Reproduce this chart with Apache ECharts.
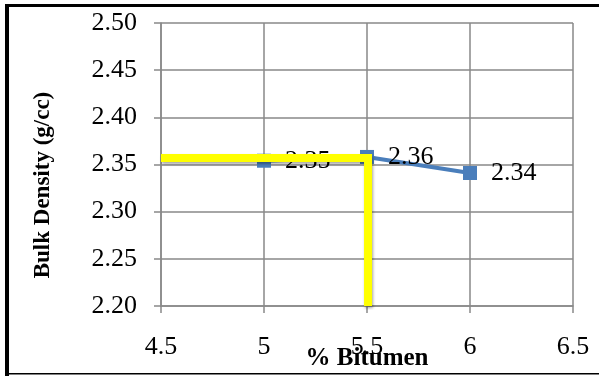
<!DOCTYPE html>
<html><head><meta charset="utf-8">
<script src="https://cdn.jsdelivr.net/npm/echarts@6/dist/echarts.min.js"></script>
<style>html,body{margin:0;padding:0;background:#fff}#c{width:599px;height:376px}</style>
</head><body><div id="c"></div>
<script>
const bitumen = [5, 5.5, 6];
const density = [2.354, 2.358, 2.341];
const densityLabels = ['2.35', '2.36', '2.34'];
const guideX = [4.5, 5.505, 5.505];
const guideY = [2.357, 2.357, 2.2];
const xTicks = [4.5, 5, 5.5, 6, 6.5];
const yTicks = ['2.20','2.25','2.30','2.35','2.40','2.45','2.50'];
const xTitle = '% Bitumen';
const yTitle = 'Bulk Density (g/cc)';

const chart = echarts.init(document.getElementById('c'), null, {renderer:'canvas'});
const FONT = '"Liberation Serif", "Times New Roman", serif';
const gridLine = {color:'#898989', width:1.5};
chart.setOption({
  animation:false,
  backgroundColor:'#fff',
  grid:{left:161, right:26, top:23, bottom:70, containLabel:false, outerBoundsMode:'none'},
  xAxis:{type:'value', min:4.5, max:6.5, interval:0.5,
    axisLine:{show:true, lineStyle:gridLine}, axisTick:{show:true, length:7, lineStyle:gridLine},
    splitLine:{show:true, lineStyle:gridLine},
    axisLabel:{fontFamily:FONT, fontSize:26, color:'#000', margin:28,
      formatter:v=>{const t=xTicks.find(x=>Math.abs(x-v)<1e-6);return t===undefined?'':String(t);}}},
  yAxis:{type:'value', min:2.2, max:2.5, interval:0.05,
    axisLine:{show:true, lineStyle:gridLine}, axisTick:{show:true, length:7, lineStyle:gridLine},
    splitLine:{show:true, lineStyle:gridLine},
    axisLabel:{fontFamily:FONT, fontSize:26, color:'#000', margin:24,
      formatter:v=>{const i=Math.round((v-2.2)/0.05);return yTicks[i]||'';}}},
  series:[
    {type:'line', z:3, data:bitumen.map((x,i)=>[x,density[i]]),
      symbol:'rect', symbolSize:14, lineStyle:{color:'#4a7ebb', width:4},
      itemStyle:{color:'#4a7ebb'},
      label:{show:true, position:'right', distance:14, fontFamily:FONT, fontSize:26, color:'#000',
        formatter:p=>densityLabels[p.dataIndex]}},
    {type:'line', z:5, data:guideX.map((x,i)=>[x,guideY[i]]), symbol:'none',
      lineStyle:{color:'#ffff00', width:8, cap:'butt', join:'miter',
        shadowColor:'rgba(0,0,0,0.35)', shadowBlur:3, shadowOffsetX:1, shadowOffsetY:2}}
  ],
  graphic:[
    {type:'rect', shape:{x:5, y:4, width:600, height:3}, style:{fill:'#000'}, silent:true},
    {type:'rect', shape:{x:5, y:4, width:4, height:380}, style:{fill:'#000'}, silent:true},
    {type:'rect', shape:{x:5, y:373, width:600, height:1.5}, style:{fill:'#000'}, silent:true},
    {type:'text', x:367, y:359, z:10, style:{text:xTitle, font:'bold 25px '+FONT, fill:'#000', align:'center', verticalAlign:'middle'}},
    {type:'text', x:43, y:185, rotation:Math.PI/2, z:10, style:{text:yTitle, font:'bold 23px '+FONT, fill:'#000', align:'center', verticalAlign:'middle'}}
  ]
});
</script></body></html>
